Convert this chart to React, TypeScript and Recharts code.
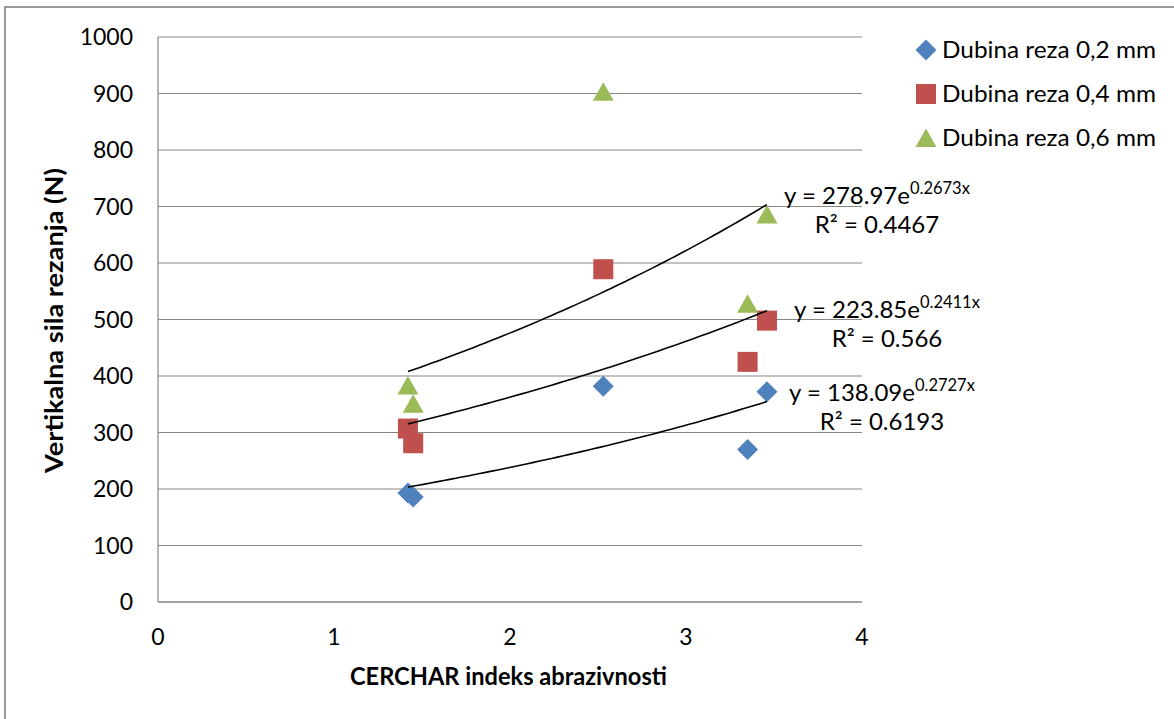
import React from 'react';
import { ScatterChart, Scatter, XAxis, YAxis, CartesianGrid, Label } from 'recharts';

// CERCHAR abrasivity index (x) for each sample
const categories = [1.42, 1.45, 2.53, 3.35, 3.46];
const seriesNames = ['Dubina reza 0,2 mm', 'Dubina reza 0,4 mm', 'Dubina reza 0,6 mm'];
const force02 = [193, 186, 382, 270, 372];
const force04 = [307, 281, 589, 425, 498];
const force06 = [383, 351, 903, 528, 686];
// exponential trendlines y = a * e^(b x)
const trendCoefA = [138.09, 223.85, 278.97];
const trendCoefB = [0.2727, 0.2411, 0.2673];
const rSquaredLabels = ['0.6193', '0.566', '0.4467'];
const xTicks = [0, 1, 2, 3, 4];
const yTicks = [0, 100, 200, 300, 400, 500, 600, 700, 800, 900, 1000];
const xAxisTitle = 'CERCHAR indeks abrazivnosti';
const yAxisTitle = 'Vertikalna sila rezanja (N)';

const COLORS = ['#4F81BD', '#C0504D', '#9BBB59'];
const GRID = '#868686';
const FONT = 'Lato, "Open Sans", sans-serif';
// label placement offsets (px) relative to each trendline's end
const LABEL_DX = [115, 120, 110];
const LABEL_DY = [-1, 7, -1];
const LABEL_GAP = 29;

const Diamond = (p: any) => (
  <path
    d={`M${p.cx},${p.cy - 10.5}L${p.cx + 10.5},${p.cy}L${p.cx},${p.cy + 10.5}L${p.cx - 10.5},${p.cy}Z`}
    fill={p.fill}
  />
);
const Square = (p: any) => <rect x={p.cx - 10} y={p.cy - 10} width={20} height={20} fill={p.fill} />;
const Triangle = (p: any) => (
  <path d={`M${p.cx},${p.cy - 9.5}L${p.cx + 10.5},${p.cy + 9}L${p.cx - 10.5},${p.cy + 9}Z`} fill={p.fill} />
);
const SHAPES = [Diamond, Square, Triangle];

const seriesValues = [force02, force04, force06];
const seriesData = seriesValues.map((vals) => vals.map((v, i) => ({ x: categories[i], y: v })));

const xMin = Math.min(...categories);
const xMax = Math.max(...categories);
const trendData = trendCoefA.map((a, s) => {
  const b = trendCoefB[s];
  const pts = [] as { x: number; y: number }[];
  const n = 60;
  for (let k = 0; k <= n; k++) {
    const x = xMin + ((xMax - xMin) * k) / n;
    pts.push({ x, y: a * Math.exp(b * x) });
  }
  return pts;
});
const trendEnd = trendCoefA.map((a, s) => [{ x: xMax, y: a * Math.exp(trendCoefB[s] * xMax) }]);

const makeLabelShape = (s: number) => (p: any) => {
  const cx = p.cx + LABEL_DX[s];
  const y1 = p.cy + LABEL_DY[s];
  return (
    <g style={{ fontFamily: FONT }}>
      <text x={cx} y={y1} textAnchor="middle" fontSize={24} fill="#000">
        {`y = ${trendCoefA[s].toFixed(2)}e`}
        <tspan fontSize={16.5} dy={-10}>{`${trendCoefB[s]}x`}</tspan>
      </text>
      <text x={cx} y={y1 + LABEL_GAP} textAnchor="middle" fontSize={24} fill="#000">
        {`R² = ${rSquaredLabels[s]}`}
      </text>
    </g>
  );
};

const XTitle = (props: any) => {
  const vb = props.viewBox || { x: 158, y: 602, width: 704 };
  return (
    <text
      x={vb.x + vb.width / 2 - 1.5}
      y={vb.y + 83}
      textAnchor="middle"
      fontSize={24}
      fontWeight="bold"
      fill="#000"
      textLength={317}
      lengthAdjust="spacingAndGlyphs"
    >
      {xAxisTitle}
    </text>
  );
};
const YTitle = (props: any) => {
  const vb = props.viewBox || { x: 0, y: 37, width: 158, height: 565 };
  const x = vb.x + 63;
  const y = vb.y + vb.height / 2 + 1;
  return (
    <text
      x={x}
      y={y}
      transform={`rotate(-90, ${x}, ${y})`}
      textAnchor="middle"
      fontSize={24}
      fontWeight="bold"
      fill="#000"
      textLength={305}
      lengthAdjust="spacingAndGlyphs"
    >
      {yAxisTitle}
    </text>
  );
};

const LegendOverlay = () => (
  <svg width={1174} height={719} style={{ position: 'absolute', left: 0, top: 0, pointerEvents: 'none' }}>
    {seriesNames.map((name, i) => {
      const Shape = SHAPES[i];
      const cy = 50 + i * 44;
      return (
        <g key={name}>
          <Shape cx={926} cy={cy} fill={COLORS[i]} />
          <text
            x={942}
            y={cy + 7.5}
            fontSize={24}
            fill="#000"
            style={{ fontFamily: FONT }}
            textLength={214}
            lengthAdjust="spacingAndGlyphs"
          >
            {name}
          </text>
        </g>
      );
    })}
  </svg>
);

export default function App() {
  return (
    <div
      style={{
        position: 'fixed',
        left: 0,
        top: 0,
        width: 1174,
        height: 719,
        overflow: 'hidden',
        background: '#fff',
        fontFamily: FONT,
      }}
    >
      <div
        style={{
          position: 'absolute',
          left: 4,
          top: 6,
          width: 1300,
          height: 900,
          borderLeft: '2px solid #999',
          borderTop: '2px solid #999',
        }}
      />
      <div style={{ position: 'absolute', left: 0, top: 0 }}>
        <ScatterChart width={1174} height={719} margin={{ top: 37, right: 312, bottom: 0, left: 0 }}>
          <CartesianGrid horizontal vertical={false} stroke={GRID} strokeWidth={1.2} />
          <XAxis
            type="number"
            dataKey="x"
            domain={[0, 4]}
            ticks={xTicks}
            interval={0}
            height={117}
            axisLine={{ stroke: GRID, strokeWidth: 1.2 }}
            tickLine={false}
            tickSize={0}
            tickMargin={27}
            tick={{ fill: '#000', fontSize: 23 }}
          >
            <Label content={<XTitle />} />
          </XAxis>
          <YAxis
            type="number"
            dataKey="y"
            domain={[0, 1000]}
            ticks={yTicks}
            interval={0}
            width={158}
            axisLine={{ stroke: GRID, strokeWidth: 1.2 }}
            tickLine={false}
            tickSize={0}
            tickMargin={25}
            tick={{ fill: '#000', fontSize: 23 }}
          >
            <Label content={<YTitle />} />
          </YAxis>
          {seriesData.map((d, i) => (
            <Scatter
              key={seriesNames[i]}
              name={seriesNames[i]}
              data={d}
              fill={COLORS[i]}
              shape={SHAPES[i]}
              isAnimationActive={false}
            />
          ))}
          {trendData.map((d, i) => (
            <Scatter
              key={'trend' + i}
              data={d}
              line={{ stroke: '#000', strokeWidth: 1.6 }}
              shape={() => <g />}
              legendType="none"
              isAnimationActive={false}
            />
          ))}
          {trendEnd.map((d, i) => (
            <Scatter
              key={'lbl' + i}
              data={d}
              shape={makeLabelShape(i)}
              legendType="none"
              isAnimationActive={false}
            />
          ))}
        </ScatterChart>
      </div>
      <LegendOverlay />
    </div>
  );
}
